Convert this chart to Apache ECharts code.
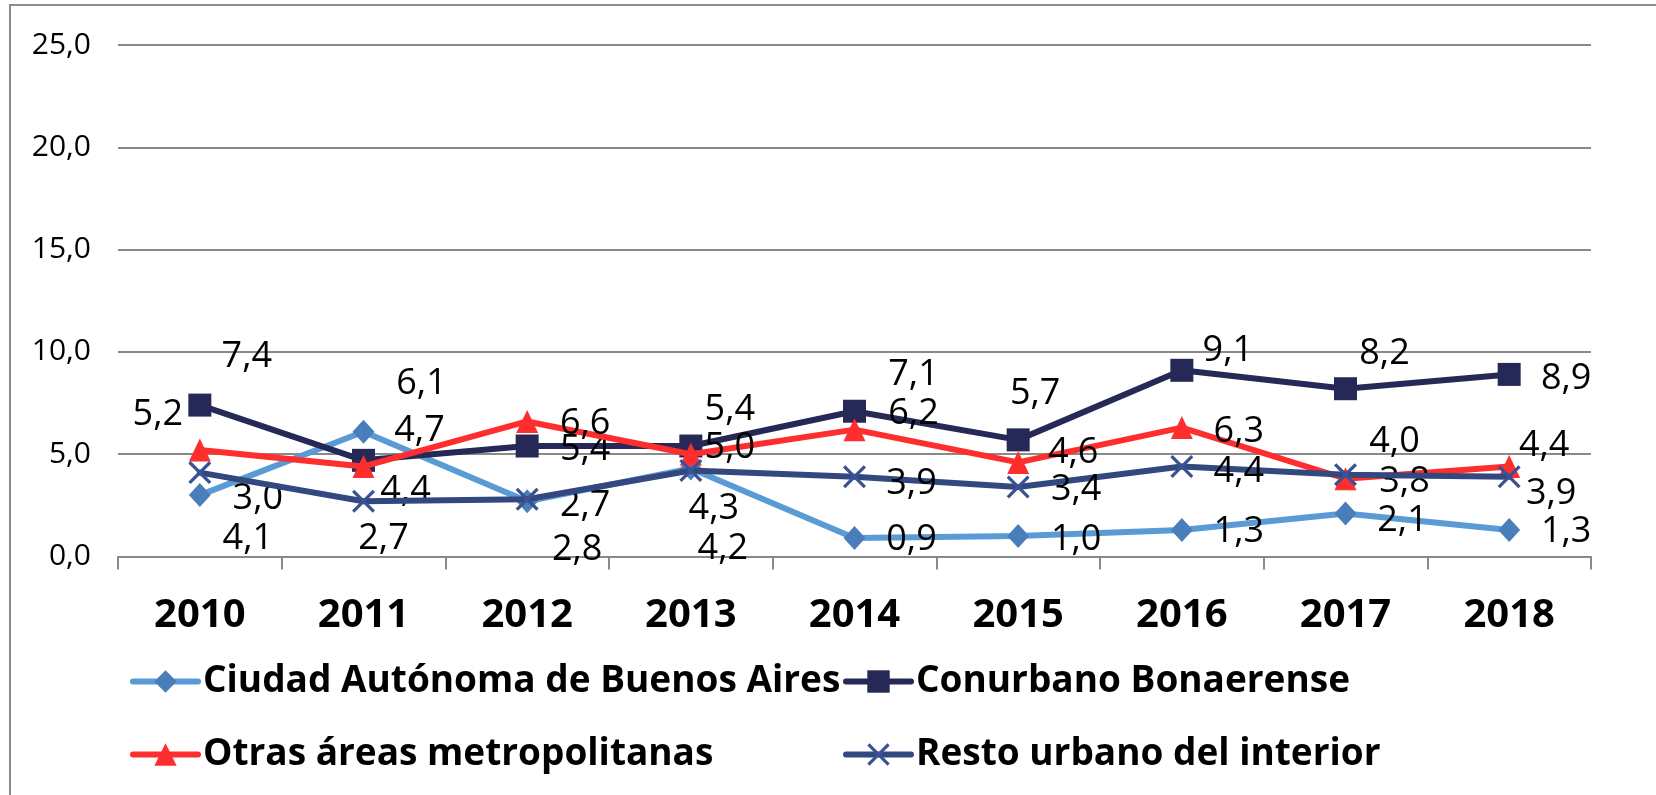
<!DOCTYPE html>
<html>
<head>
<meta charset="utf-8">
<script src="https://cdn.jsdelivr.net/npm/echarts@6/dist/echarts.min.js"></script>
<style>
html,body{margin:0;padding:0;background:#fff;}
#chart{width:1656px;height:795px;}
</style>
</head>
<body>
<div id="chart"></div>
<script>
// ---- data ----
const years = ['2010','2011','2012','2013','2014','2015','2016','2017','2018'];
const seriesNames = ['Ciudad Autónoma de Buenos Aires','Conurbano Bonaerense','Otras áreas metropolitanas','Resto urbano del interior'];
const caba      = [3.0, 6.1, 2.7, 4.3, 0.9, 1.0, 1.3, 2.1, 1.3];
const conurbano = [7.4, 4.7, 5.4, 5.4, 7.1, 5.7, 9.1, 8.2, 8.9];
const otras     = [5.2, 4.4, 6.6, 5.0, 6.2, 4.6, 6.3, 3.8, 4.4];
const resto     = [4.1, 2.7, 2.8, 4.2, 3.9, 3.4, 4.4, 4.0, 3.9];

// ---- styles (label placement as in the original, in px) ----
const labelOffsets = [
  [[58,4],[58,-48],[58,4],[23,40],[57,2],[58,4],[57,2],[57,7],[57,2]],
  [[47,-48],[56,-30],[58,4],[39,-36],[59,-36],[17,-46],[46,-20],[39,-35],[57,4]],
  [[-42,-35],[42,24],[58,2],[39,-6],[59,-16],[55,-10],[57,4],[59,3],[35,-21]],
  [[48,66],[20,37],[50,51],[32,78],[57,7],[58,3],[57,5],[49,-33],[42,17]]
];
const FONT = "'Open Sans', 'Noto Sans', sans-serif";
const GRID_COLOR = '#898989';
const X_SYMBOL = 'path://M1,0 L5,4 L9,0 L10,1 L6,5 L10,9 L9,10 L5,6 L1,10 L0,9 L4,5 L0,1 Z';

const styles = [
  { line: '#5B9BD5', mark: '#4A7EBB', symbol: 'diamond', size: [22, 24] },
  { line: '#262956', mark: '#262956', symbol: 'rect', size: [23, 23] },
  { line: '#FF2E2E', mark: '#FF2E2E', symbol: 'triangle', size: [22, 23] },
  { line: '#33487F', mark: '#3A5193', symbol: X_SYMBOL, size: [23, 23] }
];
const values = [caba, conurbano, otras, resto];

const fmt = v => (typeof v === 'object' ? v.value : v).toFixed(1).replace('.', ',');

const series = values.map((arr, si) => ({
  name: seriesNames[si],
  type: 'line',
  data: arr.map((v, i) => ({ value: v, label: { offset: labelOffsets[si][i] } })),
  symbol: styles[si].symbol,
  symbolSize: styles[si].size,
  showAllSymbol: true,
  lineStyle: { color: styles[si].line, width: 6, cap: 'round', join: 'round' },
  itemStyle: { color: styles[si].mark },
  label: {
    show: true,
    position: 'inside',
    align: 'center',
    verticalAlign: 'middle',
    formatter: p => fmt(p.value),
    fontFamily: FONT,
    fontSize: 36,
    color: '#000'
  },
  emphasis: { disabled: true },
  z: 2 + si
}));

const legendPos = [[130, 663], [843, 663], [130, 736], [843, 736]];
const legends = seriesNames.map((n, i) => ({
  data: [n],
  left: legendPos[i][0],
  top: legendPos[i][1],
  orient: 'horizontal',
  padding: 0,
  itemGap: 0,
  itemWidth: 65,
  itemHeight: 28,
  selectedMode: false,
  lineStyle: { width: 6 },
  textStyle: { fontFamily: FONT, fontWeight: 'bold', fontSize: 37, color: '#000', lineHeight: 28 }
}));

const chart = echarts.init(document.getElementById('chart'), null, { renderer: 'canvas' });
chart.setOption({
  animation: false,
  backgroundColor: '#fff',
  graphic: [{
    type: 'rect',
    shape: { x: 10, y: 5, width: 1700, height: 900 },
    style: { fill: 'none', stroke: '#8C8C8C', lineWidth: 2 },
    silent: true,
    z: -10
  }],
  grid: { left: 118, right: 65, top: 45, bottom: 238.5, containLabel: false },
  legend: legends,
  xAxis: {
    type: 'category',
    data: years,
    boundaryGap: true,
    axisLine: { show: true, lineStyle: { color: GRID_COLOR, width: 2 } },
    axisTick: { show: true, length: 13, inside: false, lineStyle: { color: GRID_COLOR, width: 2 } },
    axisLabel: { fontFamily: FONT, fontWeight: 'bold', fontSize: 40, color: '#000', margin: 39 },
    splitLine: { show: false }
  },
  yAxis: {
    type: 'value',
    min: 0,
    max: 25,
    interval: 5,
    axisLine: { show: false },
    axisTick: { show: false },
    splitLine: { show: true, lineStyle: { color: GRID_COLOR, width: 2 } },
    axisLabel: { fontFamily: FONT, fontSize: 30, color: '#000', margin: 27, formatter: v => v.toFixed(1).replace('.', ',') }
  },
  tooltip: { show: false },
  series: series
});
</script>
</body>
</html>
